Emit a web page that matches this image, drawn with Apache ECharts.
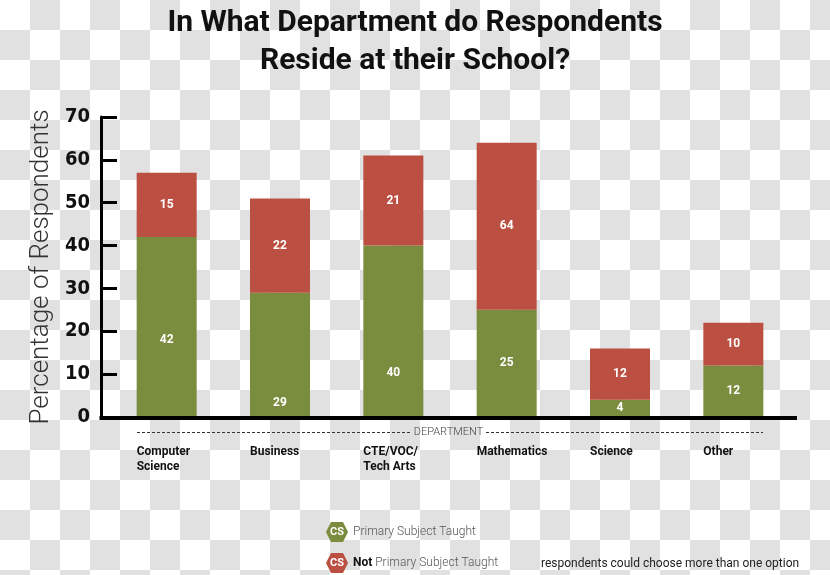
<!DOCTYPE html>
<html>
<head>
<meta charset="utf-8">
<script src="https://cdn.jsdelivr.net/npm/echarts@6/dist/echarts.min.js"></script>
<style>
html,body{margin:0;padding:0;width:830px;height:575px;overflow:hidden;
background:repeating-conic-gradient(#e1e1e1 0 25%, #ffffff 0 50%) 0 0/60px 60px;}
#chart{width:830px;height:575px;}
</style>
</head>
<body>
<div id="chart"></div>
<script>
const categories = ['Computer\nScience', 'Business', 'CTE/VOC/\nTech Arts', 'Mathematics', 'Science', 'Other'];
const primaryValues = [42, 29, 40, 25, 4, 12];
const notPrimaryValues = [15, 22, 21, 39, 12, 10];
const notPrimaryLabels = [15, 22, 21, 64, 12, 10];
const seriesNames = ['Primary Subject Taught', 'Not Primary Subject Taught'];
const yMin = 0, yMax = 70, yStep = 10;

const GREEN = '#7a8d3e';
const RED = '#bb4f41';
// label placement tweaks (style only)
const primaryLabelNudge = [13, 48, 42, 0, 0, 0];

const chart = echarts.init(document.getElementById('chart'), null, {renderer: 'canvas'});
const hexIcon = 'path://M5,0 L17,0 L22,10 L17,20 L5,20 L0,10 Z';

const option = {
  backgroundColor: 'transparent',
  animation: false,
  title: {
    text: 'In What Department do Respondents\nReside at their School?',
    left: 'center',
    top: -1,
    textStyle: {
      fontFamily: 'Roboto',
      fontWeight: 'bold',
      fontSize: 30,
      lineHeight: 38,
      color: '#111'
    }
  },
  grid: {left: 110, right: 40, top: 117, bottom: 158, containLabel: false},
  legend: {
    orient: 'vertical',
    left: 326,
    top: 522,
    padding: 0,
    itemWidth: 22,
    itemHeight: 20,
    itemGap: 11,
    selectedMode: false,
    data: [
      {name: seriesNames[0], icon: hexIcon},
      {name: seriesNames[1], icon: hexIcon}
    ],
    formatter: function (n) {
      if (n === seriesNames[1]) return '{b|Not} ' + n.replace('Not ', '');
      return n;
    },
    textStyle: {
      fontFamily: 'Roboto',
      fontWeight: 300,
      fontSize: 12,
      lineHeight: 20,
      color: '#555',
      rich: {b: {fontFamily: 'Roboto', fontWeight: 'bold', fontSize: 12, lineHeight: 20, color: '#111'}}
    }
  },
  xAxis: {
    type: 'category',
    data: categories,
    axisLine: {show: false},
    axisTick: {show: false},
    axisLabel: {
      interval: 0,
      margin: 27,
      align: 'center',
      formatter: function (v) {
        return v.split('\n').map(s => '{a|' + s + '}').join('\n');
      },
      rich: {
        a: {width: 60, align: 'left', fontFamily: 'Roboto', fontWeight: 'bold', fontSize: 12, lineHeight: 15, color: '#111'}
      }
    }
  },
  yAxis: {
    type: 'value',
    min: yMin,
    max: yMax,
    interval: yStep,
    offset: 9,
    name: 'Percentage of Respondents',
    nameLocation: 'middle',
    nameRotate: 90,
    nameGap: 47,
    nameTextStyle: {fontFamily: 'Roboto', fontWeight: 300, fontSize: 26, color: '#333'},
    axisLine: {show: true, lineStyle: {color: '#000', width: 3}},
    axisTick: {show: true, inside: true, length: 16, lineStyle: {color: '#000', width: 3}},
    splitLine: {show: false},
    axisLabel: {
      margin: 11,
      fontFamily: 'DejaVu Sans Condensed',
      fontWeight: 'bold',
      fontSize: 20,
      color: '#111'
    }
  },
  series: [
    {
      name: seriesNames[0],
      type: 'bar',
      stack: 'total',
      barWidth: 60,
      itemStyle: {color: GREEN},
      data: primaryValues.map((v, i) => ({
        value: v,
        label: {offset: [0, primaryLabelNudge[i]]}
      })),
      label: {
        show: true,
        position: 'inside',
        color: '#fff',
        fontFamily: 'Roboto',
        fontWeight: 'bold',
        fontSize: 12
      }
    },
    {
      name: seriesNames[1],
      type: 'bar',
      stack: 'total',
      barWidth: 60,
      itemStyle: {color: RED},
      data: notPrimaryValues,
      label: {
        show: true,
        position: 'inside',
        color: '#fff',
        fontFamily: 'Roboto',
        fontWeight: 'bold',
        fontSize: 12,
        formatter: p => String(notPrimaryLabels[p.dataIndex])
      }
    }
  ]
};
chart.setOption(option);

// decorations: extended x-axis baseline, dashed department rule, CS badges, footnote
const y0 = chart.convertToPixel({yAxisIndex: 0}, 0);
const axisX = 101;
chart.setOption({
  graphic: [
    {type: 'line', shape: {x1: axisX - 1.5, y1: y0 + 1, x2: 797, y2: y0 + 1}, style: {stroke: '#000', lineWidth: 4}, z: 10},
    {type: 'line', shape: {x1: 137, y1: 432.5, x2: 411, y2: 432.5}, style: {stroke: '#333', lineWidth: 1, lineDash: [3, 2]}},
    {type: 'line', shape: {x1: 486, y1: 432.5, x2: 763, y2: 432.5}, style: {stroke: '#333', lineWidth: 1, lineDash: [3, 2]}},
    {type: 'text', x: 448.5, y: 432.5, style: {text: 'DEPARTMENT', fontFamily: 'Roboto', fontWeight: 300, fontSize: 11, fill: '#444', textAlign: 'center', textVerticalAlign: 'middle'}},
    {type: 'text', x: 337, y: 532.5, z: 100, zlevel: 1, style: {text: 'CS', fontFamily: 'Roboto', fontWeight: 'bold', fontSize: 11, fill: '#fff', textAlign: 'center', textVerticalAlign: 'middle'}},
    {type: 'text', x: 337, y: 563.5, z: 100, zlevel: 1, style: {text: 'CS', fontFamily: 'Roboto', fontWeight: 'bold', fontSize: 11, fill: '#fff', textAlign: 'center', textVerticalAlign: 'middle'}},
    {type: 'text', x: 541, y: 564, style: {text: 'respondents could choose more than one option', fontFamily: 'Roboto', fontSize: 12, fill: '#222', textAlign: 'left', textVerticalAlign: 'middle'}}
  ]
});
</script>
</body>
</html>
